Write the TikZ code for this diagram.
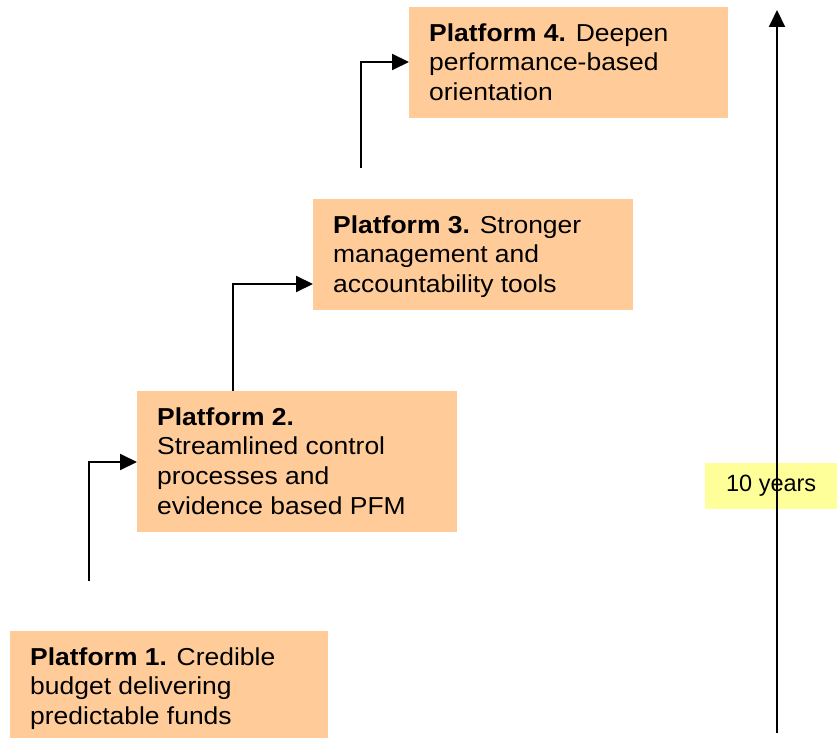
\documentclass[tikz,border=0pt]{standalone}
\usepackage{fontspec}
\setmainfont{Liberation Sans}
\newfontfamily\widefont{Liberation Sans}[FakeStretch=1.08]
\usetikzlibrary{arrows.meta,calc}
\definecolor{peach}{HTML}{FFCC99}
\definecolor{lightyellow}{HTML}{FFFF99}
\tikzset{
  pbox/.style={fill=peach, draw=none, anchor=north west, inner sep=0pt},
  ptext/.style={anchor=north west, inner sep=0pt, align=left,
    font=\widefont\fontsize{24.5pt}{29.7pt}\selectfont},
  conn/.style={line width=2pt, -{Triangle[length=17pt,width=16pt]}},
}
\begin{document}
\begin{tikzpicture}[x=1pt,y=-1pt]
\useasboundingbox (0,0) rectangle (837,738);
% boxes
\node[pbox, minimum width=318pt, minimum height=107pt] (p1) at (10,631) {};
\node[pbox, minimum width=320pt, minimum height=141pt] (p2) at (137,391) {};
\node[pbox, minimum width=320pt, minimum height=111pt] (p3) at (313,199) {};
\node[pbox, minimum width=319pt, minimum height=111pt] (p4) at (409,7) {};
% texts
\node[ptext] (t1) at ($(p1.north west)+(20,14)$) {\rule{0pt}{20pt}\textbf{Platform 1.} Credible\\budget delivering\\predictable funds};
\node[ptext] (t2) at ($(p2.north west)+(20,14)$) {\rule{0pt}{20pt}\textbf{Platform 2.}\\Streamlined control\\processes and\\evidence based PFM};
\node[ptext] (t3) at ($(p3.north west)+(20,14)$) {\rule{0pt}{20pt}\textbf{Platform 3.} Stronger\\management and\\accountability tools};
\node[ptext] (t4) at ($(p4.north west)+(20,14)$) {\rule{0pt}{20pt}\textbf{Platform 4.} Deepen\\performance-based\\orientation};
% 10 years
\node[fill=lightyellow, anchor=north west, minimum width=132pt, minimum height=46pt, inner sep=0pt,
  font=\fontsize{23.5pt}{28pt}\selectfont] (ten) at (705,463) {10 years};
% connectors
\coordinate (s1) at (89,581);
\coordinate (s3) at (361,168);
\draw[conn] (s1) |- ($(p2.north west)+(0,71)$);
\draw[conn] ($(p2.north west)+(96,0)$) |- ($(p3.north west)+(0,85)$);
\draw[conn] (s3) |- ($(p4.north west)+(0,55)$);
% time axis
\coordinate (tb) at (777,733);
\coordinate (tt) at (777,10);
\draw[conn] (tb) -- (tt);
\end{tikzpicture}
\end{document}
